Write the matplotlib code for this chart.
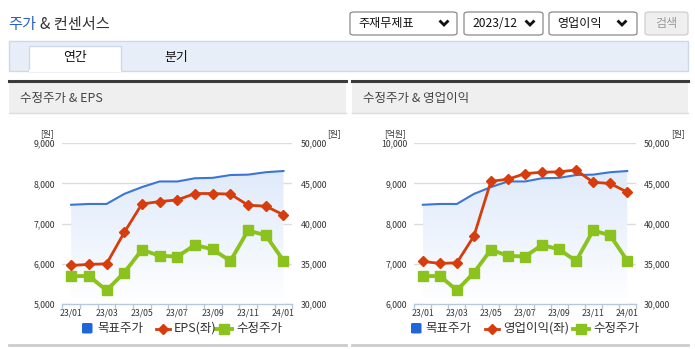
import numpy as np
import matplotlib
matplotlib.use('Agg')
import matplotlib.pyplot as plt
from matplotlib.patches import Rectangle, FancyBboxPatch
from matplotlib.lines import Line2D
from matplotlib.colors import LinearSegmentedColormap
from matplotlib.ticker import FuncFormatter

plt.rcParams['font.family'] = ['Noto Sans CJK KR', 'DejaVu Sans']

W, H = 695, 349

months = ['23/01', '23/02', '23/03', '23/04', '23/05', '23/06', '23/07',
          '23/08', '23/09', '23/10', '23/11', '23/12', '24/01']
target_price = [42350, 42450, 42450, 43700, 44550, 45250, 45250,
                45650, 45700, 46050, 46100, 46400, 46550]
adj_price = [33450, 33500, 31700, 33900, 36750, 36000, 35900,
             37350, 36800, 35350, 39150, 38550, 35400]
eps = [5960, 5985, 6000, 6780, 7490, 7550, 7590,
       7750, 7750, 7735, 7460, 7435, 7220]
op_income = [7060, 7010, 7025, 7690, 9055, 9105, 9245,
             9280, 9290, 9335, 9030, 9000, 8785]

BLUE = '#3d75d6'
BLUE_BOX = '#1f66d9'
RED = '#d63c0c'
GREEN = '#8cc21e'
TEXT = '#333333'


def fx(x):
    return x / W


def fy(y):
    return 1 - y / H


def add_rect(fig, x0, y0, x1, y1, **kw):
    fig.add_artist(Rectangle((fx(x0), fy(y1)), fx(x1) - fx(x0), fy(y0) - fy(y1),
                             transform=fig.transFigure, **kw))


def add_line(fig, xs, ys, **kw):
    fig.add_artist(Line2D([fx(x) for x in xs], [fy(y) for y in ys],
                          transform=fig.transFigure, **kw))


def add_text(fig, x, y, s, **kw):
    fig.text(fx(x), fy(y), s, **kw)


def add_dropdown(fig, x0, x1, label, arrow_x):
    fig.add_artist(FancyBboxPatch((fx(x0), fy(35)), fx(x1) - fx(x0), fy(12) - fy(35),
                                  boxstyle='round,pad=0,rounding_size=0.006',
                                  transform=fig.transFigure, fc='white', ec='#8a8a8a', lw=0.9))
    add_text(fig, x0 + 8, 23.5, label, fontsize=8.7, color='#111111', ha='left', va='center')
    add_line(fig, [arrow_x - 3.5, arrow_x, arrow_x + 3.5], [21.5, 25, 21.5],
             color='#111111', lw=2, solid_joinstyle='miter')


def draw_header(fig):
    add_text(fig, 8, 25, '주가', fontsize=11, color='#2a62c4', ha='left', va='center')
    add_text(fig, 40, 25, '& 컨센서스', fontsize=11, color=TEXT, ha='left', va='center')

    add_dropdown(fig, 350, 457, '주재무제표', 444)
    add_dropdown(fig, 464, 543, '2023/12', 530)
    add_dropdown(fig, 549, 637, '영업이익', 622)
    fig.add_artist(FancyBboxPatch((fx(645), fy(35)), fx(688) - fx(645), fy(12) - fy(35),
                                  boxstyle='round,pad=0,rounding_size=0.006',
                                  transform=fig.transFigure, fc='#efefef', ec='#cfcfcf', lw=0.9))
    add_text(fig, 666.5, 23.5, '검색', fontsize=8.7, color='#9a9a9a', ha='center', va='center')

    # tab bar
    add_rect(fig, 9, 41, 688, 70.5, fc='#e8eef8', ec='#cdd8e8', lw=1)
    add_rect(fig, 29, 46, 121, 71, fc='white', ec='#cdd8e8', lw=1)
    add_line(fig, [29.8, 120.2], [70.8, 70.8], color='white', lw=1.5)
    add_text(fig, 75, 58, '연간', fontsize=9.3, color='#111111', ha='center', va='center')
    add_text(fig, 176, 58, '분기', fontsize=9.3, color='#111111', ha='center', va='center')


def draw_panel_frame(fig, x0, x1, title):
    add_rect(fig, x0, 82, x1, 113, fc='#efefef', ec='none')
    add_line(fig, [x0, x1], [113, 113], color='#dddddd', lw=1)
    add_line(fig, [x0, x1], [81, 81], color='#3a3a3a', lw=2.2)
    add_text(fig, x0 + 11, 98.5, title, fontsize=9, color='#444444', ha='left', va='center')
    add_line(fig, [x0, x1], [345, 345], color='#cccccc', lw=2)


def draw_chart(fig, left, right, values, ylim, unit_left, unit_x, unit_right_x):
    ax = fig.add_axes([fx(left), fy(304), (right - left) / W, (304 - 143.3) / H])
    ax2 = ax.twinx()
    ax.set_zorder(ax2.get_zorder() + 1)
    ax.patch.set_visible(False)

    x = np.arange(len(months))

    # gradient area under target price
    poly = ax2.fill_between(x, target_price, 30000, color='none', lw=0)
    cmap = LinearSegmentedColormap.from_list('fade', ['#ffffff', '#eef4fd', '#dfeaf9'])
    grad = np.linspace(0, 1, 256).reshape(-1, 1)
    img = ax2.imshow(grad, extent=[x[0], x[-1], 30000, 47000], aspect='auto',
                     cmap=cmap, origin='lower', zorder=1)
    img.set_clip_path(poly.get_paths()[0], transform=ax2.transData)

    ax2.plot(x, target_price, color=BLUE, lw=1.5, zorder=3)
    ax2.plot(x, adj_price, color=GREEN, lw=2.8, marker='s', ms=7.2, zorder=4)
    ax.plot(x, values, color=RED, lw=2, marker='D', ms=5, zorder=5)

    ax.set_xlim(-0.5, len(months) - 0.5)
    ax2.set_xlim(-0.5, len(months) - 0.5)
    ax.set_ylim(*ylim)
    ax2.set_ylim(30000, 50000)

    fmt = FuncFormatter(lambda v, p: '{:,}'.format(int(v)))
    ax.set_yticks(np.arange(ylim[0], ylim[1] + 1, 1000))
    ax.yaxis.set_major_formatter(fmt)
    ax2.set_yticks(np.arange(30000, 50001, 5000))
    ax2.yaxis.set_major_formatter(fmt)

    ax.set_xticks(x[::2])
    ax.set_xticklabels(months[::2])
    ax.set_xticks(np.arange(-0.5, len(months), 1), minor=True)
    ax.tick_params(axis='x', which='major', length=0, pad=3, labelsize=6.3, colors=TEXT)
    ax.tick_params(axis='x', which='minor', length=3.5, width=1, color='#b8c8dc')
    ax.tick_params(axis='y', length=0, pad=5, labelsize=6.3, colors=TEXT)
    ax2.tick_params(axis='y', length=0, pad=6, labelsize=6.3, colors=TEXT)

    ax2.grid(axis='y', color='#dcdcdc', lw=1)
    ax2.set_axisbelow(True)

    for s in ax.spines.values():
        s.set_visible(False)
    for s in ax2.spines.values():
        s.set_visible(False)
    ax.spines['bottom'].set_visible(True)
    ax.spines['bottom'].set_color('#b8c8dc')
    ax.spines['bottom'].set_linewidth(1)

    add_text(fig, unit_x, 134, unit_left, fontsize=6.3, color=TEXT, ha='right', va='center')
    add_text(fig, unit_right_x, 134, '[원]', fontsize=6.3, color=TEXT, ha='right', va='center')


def draw_legend(fig, box_x, label1_x, red_x, label2_x, label2, green_x, label3_x):
    y = 328.5
    fig.add_artist(FancyBboxPatch((fx(box_x), fy(y + 5)), fx(10.5), fy(0) - fy(10.5),
                                  boxstyle='round,pad=0,rounding_size=0.003',
                                  transform=fig.transFigure, fc=BLUE_BOX, ec='none'))
    add_text(fig, label1_x, y, '목표주가', fontsize=9, color=TEXT, ha='left', va='center')
    add_line(fig, [red_x, red_x + 7, red_x + 14], [y, y, y], color=RED, lw=2,
             marker='D', ms=5, markevery=[1])
    add_text(fig, label2_x, y, label2, fontsize=9, color=TEXT, ha='left', va='center')
    add_line(fig, [green_x, green_x + 8, green_x + 16], [y, y, y], color=GREEN, lw=2.8,
             marker='s', ms=7, markevery=[1])
    add_text(fig, label3_x, y, '수정주가', fontsize=9, color=TEXT, ha='left', va='center')


fig = plt.figure(figsize=(W / 100, H / 100), dpi=100)
fig.patch.set_facecolor('white')

draw_header(fig)
draw_panel_frame(fig, 9, 346, '수정주가 & EPS')
draw_panel_frame(fig, 352, 688, '수정주가 & 영업이익')

draw_chart(fig, 62.3, 292.3, eps, (5000, 9000), '[원]', 53.5, 341)
draw_chart(fig, 414.3, 635.7, op_income, (6000, 10000), '[억원]', 405.5, 685)

draw_legend(fig, 82, 97, 156, 174, 'EPS(좌)', 216, 236)
draw_legend(fig, 411, 425, 485, 503, '영업이익(좌)', 573, 593)

fig.savefig('out.png', dpi=100)
